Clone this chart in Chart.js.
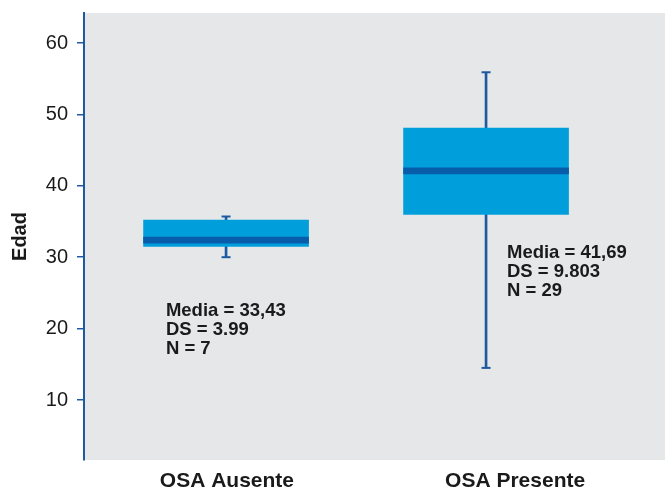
<!DOCTYPE html>
<html>
<head>
<meta charset="utf-8">
<script src="https://cdn.jsdelivr.net/npm/chart.js@4.4.1/dist/chart.umd.min.js"></script>
<style>
	html, body { margin: 0; padding: 0; background: #fff; overflow: hidden; }
	canvas { display: block; }
</style>
</head>
<body>
<canvas id="myChart" width="665" height="488"></canvas>
<script>
// groups and box statistics
var groups = ["OSA Ausente", "OSA Presente"];
var whiskerLow = [30.0, 14.5];
var q1 = [31.5, 36.0];
var median = [32.4, 42.1];
var q3 = [35.2, 48.1];
var whiskerHigh = [35.7, 55.9];
var yTicks = [10, 20, 30, 40, 50, 60];
var notes = [
	["Media = 33,43", "DS = 3.99", "N = 7"],
	["Media = 41,69", "DS = 9.803", "N = 29"]
];

// where each box sits on the x axis (0..2, one unit per group)
var boxX = [0.489, 1.384];
var labelX = [0.492, 1.484];
var noteAt = [{x: 0.282, y: 22.45}, {x: 1.456, y: 30.6}];

var blue = '#1d5aa0';
var textColor = '#1a1a1a';

var boxes = groups.map(function (g, i) { return {x: boxX[i], y: [q1[i], q3[i]]} });
var medians = groups.map(function (g, i) { return {x: boxX[i], y: [median[i] - 0.42, median[i] + 0.42]} });
var whiskers = groups.map(function (g, i) { return {x: boxX[i], y: [whiskerLow[i], whiskerHigh[i]]} });
var caps = [];
groups.forEach(function (g, i) {
	caps.push({x: boxX[i], y: whiskerLow[i]});
	caps.push({x: boxX[i], y: whiskerHigh[i]});
});

var plotBackground = {
	id: 'plotBackground',
	beforeDraw: function (chart) {
		var a = chart.chartArea, ctx = chart.ctx;
		ctx.save();
		ctx.fillStyle = '#e6e7e9';
		ctx.fillRect(a.left, a.top, chart.width - a.left, a.bottom - a.top);
		ctx.restore();
	}
};

var boxNotes = {
	id: 'boxNotes',
	afterDatasetsDraw: function (chart) {
		var ctx = chart.ctx, xs = chart.scales.x, ys = chart.scales.y;
		ctx.save();
		ctx.fillStyle = textColor;
		ctx.font = 'bold 18.5px "Liberation Sans", Arial, sans-serif';
		ctx.textBaseline = 'middle';
		ctx.textAlign = 'left';
		notes.forEach(function (lines, i) {
			var px = xs.getPixelForValue(noteAt[i].x);
			var py = ys.getPixelForValue(noteAt[i].y);
			lines.forEach(function (t, k) { ctx.fillText(t, px, py + k * 19) });
		});
		ctx.restore();
	}
};

function noPad(scale) {
	scale.paddingTop = 0;
	scale.paddingBottom = 0;
	scale.paddingLeft = 0;
	scale.paddingRight = 0;
}

var myChart = new Chart(document.getElementById("myChart"), {
	type: 'bar',
	data: {
		datasets: [{
			label: 'whisker',
			data: whiskers,
			backgroundColor: blue,
			barThickness: 2,
			grouped: false,
			order: 4
		}, {
			label: 'box',
			data: boxes,
			backgroundColor: '#009fdc',
			barThickness: 165,
			grouped: false,
			order: 3
		}, {
			label: 'median',
			data: medians,
			backgroundColor: '#075da9',
			barThickness: 165,
			grouped: false,
			order: 2
		}, {
			type: 'scatter',
			label: 'caps',
			data: caps,
			pointStyle: 'line',
			radius: 4.5,
			borderWidth: 2,
			borderColor: blue,
			order: 1
		}]
	},
	options: {
		responsive: false,
		animation: false,
		layout: { autoPadding: false, padding: { top: 13, right: 0, bottom: 0, left: 0 } },
		plugins: {
			legend: { display: false },
			tooltip: { enabled: false }
		},
		scales: {
			x: {
				type: 'linear',
				offset: false,
				min: 0,
				max: 2,
				border: { display: false },
				grid: { display: false },
				afterBuildTicks: function (scale) {
					scale.ticks = labelX.map(function (v) { return {value: v} });
				},
				afterFit: function (scale) { scale.height = 28; noPad(scale) },
				ticks: {
					padding: 1,
					maxRotation: 0,
					color: textColor,
					font: { family: '"Liberation Sans", Arial, sans-serif', size: 21, weight: 'bold' },
					callback: function (value, index) { return groups[index] }
				}
			},
			y: {
				type: 'linear',
				min: 1.6,
				max: 64.2,
				border: { display: true, color: blue, width: 2 },
				grid: { drawOnChartArea: false, drawTicks: true, tickLength: 7, color: blue, lineWidth: 1.5 },
				afterBuildTicks: function (scale) {
					scale.ticks = yTicks.map(function (v) { return {value: v} });
				},
				afterFit: function (scale) { scale.width = 84; noPad(scale) },
				ticks: {
					padding: 9,
					color: textColor,
					font: { family: '"Liberation Sans", Arial, sans-serif', size: 20 }
				},
				title: {
					display: true,
					text: 'Edad',
					color: textColor,
					padding: { top: 8, bottom: 0 },
					font: { family: '"Liberation Sans", Arial, sans-serif', size: 20, weight: 'bold' }
				}
			}
		}
	},
	plugins: [plotBackground, boxNotes]
});
</script>
</body>
</html>
